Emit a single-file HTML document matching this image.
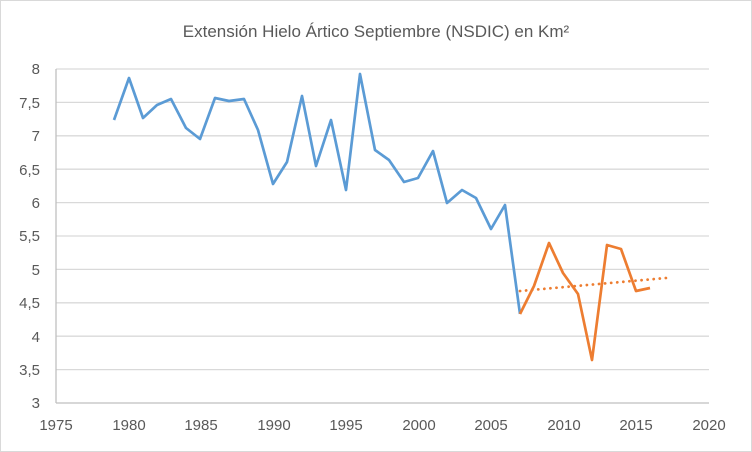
<!DOCTYPE html>
<html><head><meta charset="utf-8"><style>body{margin:0;background:#fff}svg{display:block}</style></head><body>
<svg width="752" height="452" xmlns="http://www.w3.org/2000/svg" font-family="Liberation Sans, sans-serif">
<rect x="0.5" y="0.5" width="751" height="451" fill="#fff" stroke="#d9d9d9"/>
<text x="376" y="37" text-anchor="middle" font-size="17" fill="#595959">Extensión Hielo Ártico Septiembre (NSDIC) en Km²</text>
<g stroke="#d9d9d9" stroke-width="1.3">
<line x1="56" x2="709" y1="69" y2="69"/><line x1="56" x2="709" y1="102.4" y2="102.4"/><line x1="56" x2="709" y1="135.8" y2="135.8"/><line x1="56" x2="709" y1="169.2" y2="169.2"/><line x1="56" x2="709" y1="202.6" y2="202.6"/><line x1="56" x2="709" y1="236" y2="236"/><line x1="56" x2="709" y1="269.4" y2="269.4"/><line x1="56" x2="709" y1="302.8" y2="302.8"/><line x1="56" x2="709" y1="336.2" y2="336.2"/><line x1="56" x2="709" y1="369.6" y2="369.6"/>
</g>
<line x1="56" x2="709" y1="403" y2="403" stroke="#bfbfbf" stroke-width="1.3"/>
<line x1="56" x2="56" y1="69" y2="403" stroke="#bfbfbf" stroke-width="1.3"/>
<g font-size="15" fill="#595959" text-anchor="end">
<text x="40" y="74">8</text><text x="40" y="108">7,5</text><text x="40" y="141">7</text><text x="40" y="175">6,5</text><text x="40" y="208">6</text><text x="40" y="241">5,5</text><text x="40" y="275">5</text><text x="40" y="308">4,5</text><text x="40" y="342">4</text><text x="40" y="375">3,5</text><text x="40" y="408">3</text>
</g>
<g font-size="15" fill="#595959" text-anchor="middle">
<text x="56" y="430">1975</text><text x="129" y="430">1980</text><text x="201" y="430">1985</text><text x="274" y="430">1990</text><text x="346" y="430">1995</text><text x="419" y="430">2000</text><text x="491" y="430">2005</text><text x="564" y="430">2010</text><text x="636" y="430">2015</text><text x="709" y="430">2020</text>
</g>
<polyline fill="none" stroke="#5b9bd5" stroke-width="2.7" stroke-linejoin="round" points="114,120 129,78 143,118 157,105 171,99 186,128 200,139 215,98 229,101 244,99 258,130 273,184 287,162 302,96 316,166 331,120 346,190 360,74 375,150 389,160 404,182 418,178 433,151 447,203 462,190 476,198 491,229 505,205 520,314"/>
<polyline fill="none" stroke="#ed7d31" stroke-width="2.7" stroke-linejoin="round" points="520,314 534,286 549,243 563,273 578,294 592,360 607,245 621,249 636,291 650,288"/>
<line x1="520" y1="291" x2="666" y2="278" stroke="#ed7d31" stroke-width="2.8" stroke-dasharray="0.1,6" stroke-linecap="round"/>
</svg>
</body></html>
